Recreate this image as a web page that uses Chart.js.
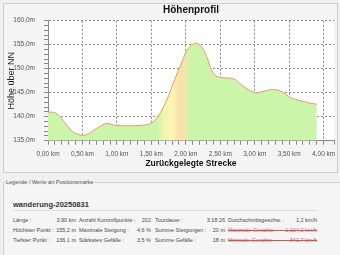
<!DOCTYPE html>
<html>
<head>
<meta charset="utf-8">
<script src="https://cdn.jsdelivr.net/npm/chart.js@4.4.1/dist/chart.umd.min.js"></script>
<style>
  body{margin:0;width:340px;height:255px;background:#f0f0f0;position:relative;overflow:hidden;font-family:"Liberation Sans",Arial,sans-serif;}
  #panel{position:absolute;left:3px;top:3px;width:333px;height:168px;border:1px solid #cfcfcf;background:#f4f4f4;}
  #wrap{position:absolute;left:0;top:0;width:340px;height:172px;}
  #fieldset{position:absolute;left:3px;top:182px;width:336px;height:80px;border-top:1px solid #cfcfcf;border-left:1px solid #cfcfcf;background:#f5f5f5;}
  #legend{position:absolute;left:5px;top:179px;font-size:5.5px;line-height:6px;color:#555;background:#f0f0f0;padding:0 1px;}
  #tour{position:absolute;left:13px;top:200px;font-size:7.5px;line-height:9px;font-weight:bold;color:#333;}
  #sep{position:absolute;left:13px;top:210px;width:304px;border-top:1px solid #dedede;}
  .c{position:absolute;font-size:5.5px;line-height:6px;color:#4a4a4a;white-space:nowrap;}
  .r{text-align:right;}
  .x{color:#b86a6a;}
  .strike{position:absolute;left:228px;width:89px;border-top:1px solid #d9534f;}
</style>
</head>
<body>
<div id="panel"></div>
<div id="wrap"><canvas id="hoehenChart" width="340" height="172"></canvas></div>

<div id="fieldset"></div>
<div id="legend">Legende / Werte an Positionsmarke</div>
<div id="tour">wanderung-20250831</div>
<div id="sep"></div>

<div class="c" style="left:13px;top:217px">Länge :</div>
<div class="c r" style="right:264px;top:217px">3,90 km</div>
<div class="c" style="left:79px;top:217px">Anzahl Kontrollpunkte :</div>
<div class="c r" style="right:189px;top:217px">202</div>
<div class="c" style="left:155px;top:217px">Tourdauer :</div>
<div class="c r" style="right:115px;top:217px">3:18:26</div>
<div class="c" style="left:228px;top:217px">Durchschnittsgeschw. :</div>
<div class="c r" style="right:23px;top:217px">1,2 km/h</div>

<div class="c" style="left:13px;top:227px">Höchster Punkt :</div>
<div class="c r" style="right:264px;top:227px">155,2 m</div>
<div class="c" style="left:79px;top:227px">Maximale Steigung :</div>
<div class="c r" style="right:189px;top:227px">4,6 %</div>
<div class="c" style="left:155px;top:227px">Summe Steigungen :</div>
<div class="c r" style="right:115px;top:227px">20 m</div>
<div class="c x" style="left:228px;top:227px">Maximale Geschw. :</div>
<div class="c r x" style="right:23px;top:227px">1.104,2 km/h</div>
<div class="strike" style="top:230px"></div>

<div class="c" style="left:13px;top:236.5px">Tiefster Punkt :</div>
<div class="c r" style="right:264px;top:236.5px">136,1 m</div>
<div class="c" style="left:79px;top:236.5px">Stärkstes Gefälle :</div>
<div class="c r" style="right:189px;top:236.5px">3,5 %</div>
<div class="c" style="left:155px;top:236.5px">Summe Gefälle :</div>
<div class="c r" style="right:115px;top:236.5px">18 m</div>
<div class="c x" style="left:228px;top:236.5px">Minimale Geschw. :</div>
<div class="c r x" style="right:23px;top:236.5px">341,7 km/h</div>
<div class="strike" style="top:239.5px"></div>

<script>
// Strecke in km und Höhe in m
var strecke = [0, 0.08, 0.15, 0.25, 0.35, 0.44, 0.52, 0.59, 0.70, 0.86, 0.97, 1.17, 1.36, 1.45, 1.50, 1.60, 1.74, 1.84, 1.94, 2.01, 2.10, 2.15, 2.22, 2.30, 2.37, 2.44, 2.56, 2.71, 2.80, 2.95, 3.04, 3.14, 3.26, 3.38, 3.52, 3.67, 3.81, 3.90];
var hoehe = [141.0, 140.9, 140.4, 138.7, 137.0, 136.3, 136.1, 136.5, 137.5, 138.6, 138.2, 138.1, 138.2, 138.4, 138.7, 140.1, 144.0, 147.8, 151.2, 153.7, 155.1, 155.3, 154.7, 152.6, 149.8, 148.5, 148.1, 147.8, 146.7, 145.3, 145.0, 145.3, 145.7, 145.3, 144.0, 143.3, 142.8, 142.6];

// Beschriftete Achsenwerte
var hoeheMarken = [135, 140, 145, 150, 155, 160];
var streckeMarken = [0, 0.5, 1, 1.5, 2, 2.5, 3, 3.5, 4];

var gruen = '#cbf6a9';
// Farbverlauf für den steilen Anstieg
var anstiegFarben = [[1.58, gruen], [1.70, '#f3f5ae'], [1.80, '#fcf6b3'], [1.90, '#f8e2a9'], [1.98, '#f6e4aa'], [2.07, gruen]];

var gridFarbe = '#8a8a8a';
var tickFont = {family: 'Liberation Sans', size: 6.5};

function istMarke(liste, v){
    return liste.some(function(m){ return Math.abs(m - v) < 1e-6; });
}

//Fill below the line, yellow where the climb is steep
function flaeche(context){
    var chart = context.chart, area = chart.chartArea;
    if(!area) return gruen;
    var xs = chart.scales.x;
    var g = chart.ctx.createLinearGradient(area.left, 0, area.right, 0);
    g.addColorStop(0, gruen);
    anstiegFarben.forEach(function(s){
        var p = (xs.getPixelForValue(s[0]) - area.left) / (area.right - area.left);
        g.addColorStop(Math.min(1, Math.max(0, p)), s[1]);
    });
    g.addColorStop(1, gruen);
    return g;
}

var plotHintergrund = {
    id: 'plotHintergrund',
    beforeDraw: function(chart){
        var a = chart.chartArea, ctx = chart.ctx;
        ctx.save();
        ctx.fillStyle = '#ffffff';
        ctx.fillRect(a.left, a.top, a.right - a.left, a.bottom - a.top);
        ctx.restore();
    }
};

var ctx = document.getElementById('hoehenChart');
var hoehenChart = new Chart(ctx, {
    type: 'line',
    data: {
        datasets: [{
            data: strecke.map(function(s, i){ return {x: s, y: hoehe[i]}; }),
            borderColor: '#ee8e84',
            borderWidth: 1,
            pointRadius: 0,
            fill: 'start',
            backgroundColor: flaeche,
            cubicInterpolationMode: 'monotone'
        }]
    },
    options: {
        responsive: false,
        animation: false,
        devicePixelRatio: 1,
        layout: {padding: {left: 0, right: 3, top: 0, bottom: 0}},
        plugins: {
            legend: {display: false},
            tooltip: {enabled: false},
            title: {
                display: true,
                text: 'Höhenprofil',
                fullSize: false,
                color: '#111',
                font: {family: 'Liberation Sans', size: 10, weight: 'bold'},
                padding: {top: 4, bottom: 4.7}
            }
        },
        scales: {
            x: {
                type: 'linear',
                min: 0,
                max: 4.15,
                afterFit: function(scale){ scale.height = 31.3; },
                grid: {
                    color: function(c){ return istMarke(streckeMarken, c.tick.value) ? gridFarbe : 'rgba(0,0,0,0)'; },
                    tickColor: '#888',
                    tickLength: 4
                },
                border: {display: true, color: '#888', dash: [2, 2]},
                ticks: {
                    stepSize: 0.1,
                    autoSkip: false,
                    maxRotation: 0,
                    minRotation: 0,
                    padding: 6,
                    color: '#555',
                    font: tickFont,
                    callback: function(v){
                        return istMarke(streckeMarken, v) ? v.toFixed(2).replace('.', ',') + ' km' : '';
                    }
                },
                title: {
                    display: true,
                    text: 'Zurückgelegte Strecke',
                    color: '#111',
                    font: {family: 'Liberation Sans', size: 8.5, weight: 'bold'},
                    padding: {top: 0, bottom: 3.6}
                }
            },
            y: {
                min: 135,
                max: 160,
                afterFit: function(scale){ scale.width = 48; },
                grid: {
                    color: function(c){ return istMarke(hoeheMarken, c.tick.value) ? gridFarbe : 'rgba(0,0,0,0)'; },
                    tickColor: '#888',
                    tickLength: 4
                },
                border: {display: true, color: '#888', dash: [2, 2]},
                ticks: {
                    stepSize: 1,
                    autoSkip: false,
                    padding: 9,
                    color: '#555',
                    font: tickFont,
                    callback: function(v){
                        return istMarke(hoeheMarken, v) ? v.toFixed(1).replace('.', ',') + 'm' : '';
                    }
                },
                title: {
                    display: true,
                    text: 'Höhe über NN',
                    color: '#222',
                    font: {family: 'Liberation Sans', size: 9},
                    padding: {top: 6.3, bottom: 0}
                }
            }
        }
    },
    plugins: [plotHintergrund]
});
</script>
</body>
</html>
